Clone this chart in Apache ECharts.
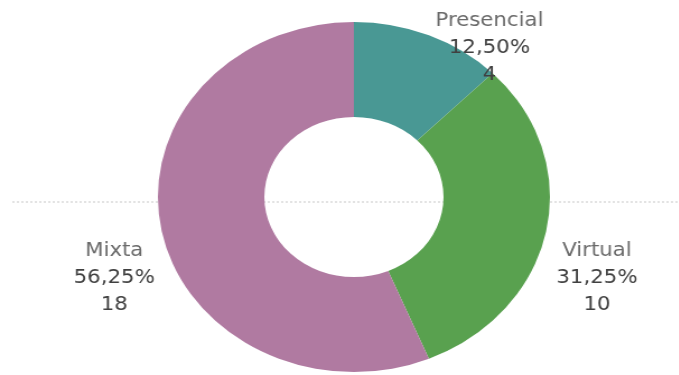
<!DOCTYPE html>
<html>
<head>
<meta charset="utf-8">
<script src="https://cdn.jsdelivr.net/npm/echarts@6/dist/echarts.min.js"></script>
<style>
html,body{margin:0;padding:0;background:#fff;overflow:hidden;}
#wrap{width:679px;height:375px;position:relative;overflow:hidden;}
/* the reference is stretched sideways, so the chart is drawn narrow and scaled in x */
#chart{width:606px;height:375px;transform:scaleX(1.12);transform-origin:0 0;}
</style>
</head>
<body>
<div id="wrap"><div id="chart"></div></div>
<script>
var categories = ['Presencial', 'Virtual', 'Mixta'];
var counts = [4, 10, 18];
var percents = ['12,50%', '31,25%', '56,25%'];
var colors = ['#499894', '#59A14F', '#B07AA1'];

// label anchor per slice (unscaled px)
var labelPos = [[437, 8], [533, 238], [102, 238]];

var myChart = echarts.init(document.getElementById('chart'));

var pieData = categories.map(function (c, i) {
    return { name: c, value: counts[i], itemStyle: { color: colors[i] } };
});

var option = {
    animation: false,
    graphic: [{
        type: 'line',
        silent: true,
        z: -1,
        shape: { x1: 11, y1: 202, x2: 606, y2: 202 },
        style: { stroke: '#c8c8c8', lineWidth: 1, lineDash: [2, 2] }
    }],
    series: [{
        type: 'pie',
        center: [316, 197],
        radius: [80, 175],
        startAngle: 90,
        clockwise: true,
        avoidLabelOverlap: false,
        itemStyle: { borderWidth: 0 },
        labelLine: { show: false },
        label: {
            show: true,
            position: 'outside',
            align: 'center',
            formatter: function (p) {
                return '{n|' + p.name + '}\n{v|' + percents[p.dataIndex] + '}\n{v|' + p.value + '}';
            },
            rich: {
                n: { fontFamily: 'DejaVu Sans', fontSize: 19, color: '#6a6a6a', lineHeight: 27, align: 'center' },
                v: { fontFamily: 'DejaVu Sans', fontSize: 19, color: '#404040', lineHeight: 27, align: 'center' }
            }
        },
        labelLayout: function (p) {
            var pos = labelPos[p.dataIndex];
            return { x: pos[0], y: pos[1], align: 'center', verticalAlign: 'top' };
        },
        data: pieData
    }]
};

myChart.setOption(option);
</script>
</body>
</html>
